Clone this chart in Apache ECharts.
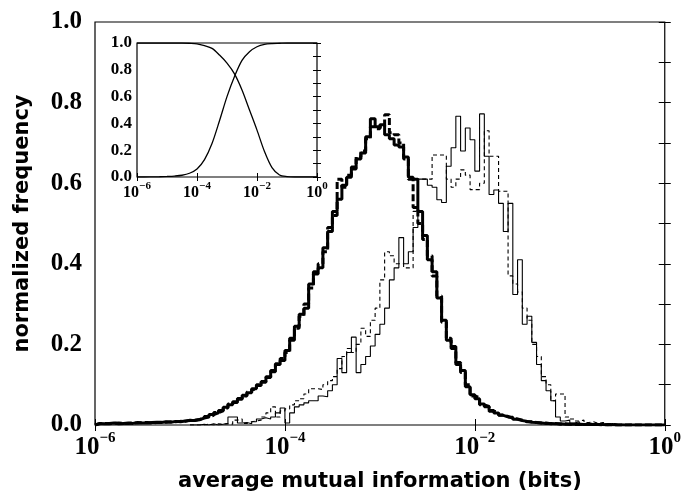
<!DOCTYPE html>
<html><head><meta charset="utf-8">
<script src="https://cdn.jsdelivr.net/npm/echarts@6/dist/echarts.min.js"></script>
<style>html,body{margin:0;padding:0;background:#fff}#c{width:684px;height:497px}</style>
</head><body><div id="c"></div>
<script>
// ---- data (x in log10 units of "average mutual information (bits)") ----
const binWidth = 0.05;            // histogram bin width in decades
const thickStart = -6.0;          // first bin edge of the thick histograms
const thickSolid = [
  0.004,0.003,0.004,0.005,0.003,0.004,0.005,0.004,0.006,0.005,0.005,0.006,0.007,0.006,0.008,0.007,0.009,0.008,0.010,0.011,
  0.011,0.013,0.017,0.020,0.026,0.030,0.036,0.044,0.050,0.056,0.066,0.074,0.080,0.090,0.098,0.108,0.118,0.135,0.150,0.160,
  0.185,0.210,0.245,0.275,0.290,0.350,0.375,0.390,0.440,0.480,0.530,0.560,0.595,0.615,0.640,0.660,0.675,0.715,0.760,0.740,
  0.745,0.720,0.710,0.695,0.690,0.665,0.615,0.610,0.530,0.470,0.410,0.380,0.315,0.260,0.210,0.195,0.150,0.135,0.095,0.075,
  0.065,0.052,0.045,0.036,0.030,0.024,0.020,0.019,0.014,0.011,0.009,0.007,0.006,0.005,0.004,0.004,0.003,0.003,0.002,0.002,
  0.002,0.002,0.001,0.002,0.001,0.001,0.001,0.000,0.001,0.000,0.000,0.000,0.000,0.000,0.000,0.000,0.000,0.000,0.000,0.000
];
const thickDashed = [
  0.003,0.004,0.003,0.004,0.005,0.004,0.004,0.005,0.005,0.006,0.006,0.005,0.006,0.007,0.007,0.008,0.008,0.009,0.009,0.012,
  0.012,0.014,0.016,0.021,0.024,0.031,0.035,0.042,0.052,0.058,0.064,0.072,0.082,0.088,0.100,0.106,0.120,0.132,0.152,0.165,
  0.180,0.215,0.240,0.270,0.300,0.340,0.380,0.400,0.430,0.490,0.520,0.610,0.590,0.620,0.635,0.665,0.680,0.710,0.740,0.735,
  0.740,0.770,0.725,0.720,0.700,0.660,0.610,0.540,0.500,0.460,0.420,0.370,0.320,0.255,0.215,0.190,0.155,0.130,0.100,0.072,
  0.068,0.050,0.046,0.034,0.031,0.025,0.021,0.017,0.015,0.012,0.008,0.008,0.006,0.005,0.005,0.003,0.004,0.002,0.003,0.002,
  0.001,0.002,0.001,0.001,0.002,0.001,0.000,0.001,0.000,0.000,0.000,0.000,0.000,0.000,0.000,0.000,0.000,0.000,0.000,0.000
];
const thinStart = -5.0;           // first bin edge of the thin histograms
const thinSolid = [
  0.000,0.000,0.002,0.000,0.003,0.000,0.002,0.004,0.020,0.020,0.005,0.006,0.003,0.008,0.015,0.018,0.015,0.020,0.030,0.042,
  0.005,0.030,0.045,0.050,0.055,0.060,0.060,0.072,0.070,0.085,0.100,0.165,0.130,0.180,0.218,0.130,0.150,0.170,0.196,0.225,
  0.250,0.290,0.360,0.390,0.465,0.400,0.430,0.490,0.610,0.610,0.595,0.590,0.559,0.552,0.642,0.688,0.766,0.680,0.737,0.708,
  0.630,0.772,0.667,0.572,0.583,0.550,0.480,0.550,0.324,0.410,0.250,0.270,0.205,0.150,0.110,0.085,0.060,0.020,0.010,0.012,
  0.005,0.008,0.003,0.004,0.002,0.003,0.001,0.002,0.001,0.001,0.000,0.000,0.000,0.000,0.000,0.000,0.000,0.000,0.000,0.000
];
const thinDashed = [
  0.000,0.000,0.000,0.002,0.000,0.003,0.002,0.003,0.002,0.012,0.015,0.004,0.008,0.010,0.012,0.020,0.030,0.045,0.020,0.035,
  0.040,0.050,0.060,0.065,0.077,0.090,0.090,0.088,0.100,0.110,0.120,0.140,0.170,0.190,0.180,0.200,0.240,0.220,0.260,0.290,
  0.360,0.430,0.420,0.400,0.400,0.390,0.390,0.530,0.610,0.610,0.610,0.670,0.670,0.670,0.610,0.590,0.610,0.633,0.620,0.584,
  0.584,0.600,0.730,0.667,0.667,0.580,0.580,0.370,0.350,0.330,0.290,0.260,0.200,0.170,0.120,0.100,0.060,0.077,0.077,0.020,
  0.015,0.010,0.012,0.006,0.008,0.004,0.006,0.003,0.004,0.002,0.002,0.001,0.002,0.001,0.001,0.000,0.000,0.000,0.000,0.000
];
// inset: cumulative curves
const insetX = [-6,-5.75,-5.5,-5.25,-5,-4.75,-4.5,-4.25,-4,-3.75,-3.5,-3.25,-3,-2.75,-2.5,-2.25,-2,-1.75,-1.5,-1.25,-1,-0.75,-0.5,-0.25,0];
const insetRising  = [0,0,0.001,0.002,0.004,0.007,0.013,0.028,0.06,0.13,0.25,0.42,0.60,0.75,0.87,0.935,0.972,0.99,0.996,0.998,1,1,1,1,1];
const insetFalling = [1,1,1,1,1,1,1,0.998,0.994,0.98,0.96,0.91,0.85,0.77,0.65,0.50,0.35,0.19,0.07,0.015,0.003,0,0,0,0];
const xTicks = [-6, -4, -2, 0];

// ---- build ----
function steps(start, vals) {
  const pts = [[start, 0]];
  vals.forEach((v, i) => pts.push([+(start + i * binWidth).toFixed(4), v]));
  const end = +(start + vals.length * binWidth).toFixed(4);
  pts.push([end, vals[vals.length - 1]]);
  pts.push([end, 0]);
  return pts;
}
const SERIF = '"Liberation Serif","Times New Roman",serif';
const SANS = '"DejaVu Sans",sans-serif';
function xLab(big, small) {
  return {
    formatter: v => xTicks.includes(Math.round(v)) ? '{b|10}{s|' + (Math.round(v) === 0 ? '0' : '\u2212' + Math.abs(Math.round(v))) + '}' : '',
    rich: {
      b: {fontFamily: SERIF, fontWeight: 'bold', fontSize: big, color: '#000', verticalAlign: 'bottom', lineHeight: big + 4},
      s: {fontFamily: SERIF, fontWeight: 'bold', fontSize: small, color: '#000', verticalAlign: 'top', lineHeight: small}
    }
  };
}
const yFmt = v => { const k = Math.round(v * 10); return k % 2 === 0 ? (k / 10).toFixed(1) : ''; };
const tickIn = len => ({show: true, inside: true, length: len, lineStyle: {color: '#000', width: 1}});

const chart = echarts.init(document.getElementById('c'));
chart.setOption({
  animation: false,
  backgroundColor: '#fff',
  grid: [
    {left: 95, top: 22, width: 576, height: 404, show: true, borderColor: '#000', borderWidth: 1.2, backgroundColor: 'transparent'},
    {left: 137, top: 43, width: 180, height: 134, show: true, borderColor: '#000', borderWidth: 1.2, backgroundColor: '#fff'}
  ],
  xAxis: [
    {gridIndex: 0, type: 'value', min: -6, max: 0, interval: 2, position: 'bottom',
     axisLine: {show: false}, axisTick: tickIn(6), splitLine: {show: false},
     axisLabel: Object.assign({margin: 6}, xLab(25, 15)),
     name: 'average mutual information (bits)', nameLocation: 'middle', nameGap: 46,
     nameTextStyle: {fontFamily: SANS, fontWeight: 'bold', fontSize: 21, color: '#000'}},
    {gridIndex: 0, type: 'value', min: -6, max: 0, interval: 2, position: 'top',
     axisLine: {show: false}, axisTick: tickIn(6), splitLine: {show: false}, axisLabel: {show: false}},
    {gridIndex: 1, type: 'value', min: -6, max: 0, interval: 2, position: 'bottom',
     axisLine: {show: false}, axisTick: tickIn(4), splitLine: {show: false},
     axisLabel: Object.assign({margin: 4}, xLab(16, 11))},
    {gridIndex: 1, type: 'value', min: -6, max: 0, interval: 2, position: 'top',
     axisLine: {show: false}, axisTick: tickIn(4), splitLine: {show: false}, axisLabel: {show: false}}
  ],
  yAxis: [
    {gridIndex: 0, type: 'value', min: 0, max: 1, interval: 0.1, position: 'left',
     axisLine: {show: false}, axisTick: tickIn(6), splitLine: {show: false},
     axisLabel: {formatter: yFmt, fontFamily: SERIF, fontWeight: 'bold', fontSize: 25, color: '#000', margin: 13},
     name: 'normalized frequency', nameLocation: 'middle', nameGap: 62,
     nameTextStyle: {fontFamily: SANS, fontWeight: 'bold', fontSize: 21, color: '#000'}},
    {gridIndex: 0, type: 'value', min: 0, max: 1, interval: 0.1, position: 'right',
     axisLine: {show: false}, axisTick: tickIn(6), splitLine: {show: false}, axisLabel: {show: false}},
    {gridIndex: 1, type: 'value', min: 0, max: 1, interval: 0.1, position: 'left',
     axisLine: {show: false}, axisTick: tickIn(4), splitLine: {show: false},
     axisLabel: {formatter: yFmt, fontFamily: SERIF, fontWeight: 'bold', fontSize: 17, color: '#000', margin: 5}},
    {gridIndex: 1, type: 'value', min: 0, max: 1, interval: 0.1, position: 'right',
     axisLine: {show: false}, axisTick: tickIn(4), splitLine: {show: false}, axisLabel: {show: false}}
  ],
  series: [
    {type: 'line', xAxisIndex: 0, yAxisIndex: 0, step: 'end', showSymbol: false, data: steps(thinStart, thinSolid),
     lineStyle: {color: '#000', width: 1.1}, z: 2},
    {type: 'line', xAxisIndex: 0, yAxisIndex: 0, step: 'end', showSymbol: false, data: steps(thinStart, thinDashed),
     lineStyle: {color: '#000', width: 1.1, type: [4, 3]}, z: 2},
    {type: 'line', xAxisIndex: 0, yAxisIndex: 0, step: 'end', showSymbol: false, data: steps(thickStart, thickDashed),
     lineStyle: {color: '#000', width: 3, type: [7, 3]}, z: 3},
    {type: 'line', xAxisIndex: 0, yAxisIndex: 0, step: 'end', showSymbol: false, data: steps(thickStart, thickSolid),
     lineStyle: {color: '#000', width: 3}, z: 4},
    {type: 'line', xAxisIndex: 2, yAxisIndex: 2, smooth: 0.3, showSymbol: false,
     data: insetX.map((x, i) => [x, insetRising[i]]), lineStyle: {color: '#000', width: 1.3}, z: 5},
    {type: 'line', xAxisIndex: 2, yAxisIndex: 2, smooth: 0.3, showSymbol: false,
     data: insetX.map((x, i) => [x, insetFalling[i]]), lineStyle: {color: '#000', width: 1.3}, z: 5}
  ]
});
</script></body></html>
